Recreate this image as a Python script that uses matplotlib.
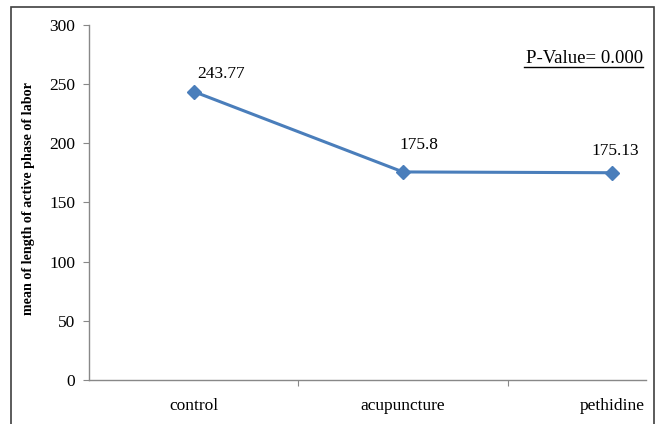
import matplotlib
matplotlib.use('Agg')
import matplotlib.pyplot as plt
from matplotlib.patches import Rectangle
from matplotlib.lines import Line2D

# Data
groups = ['control', 'acupuncture', 'pethidine']
means = [243.77, 175.8, 175.13]
value_labels = ['243.77', '175.8', '175.13']
y_ticks = [0, 50, 100, 150, 200, 250, 300]

plt.rcParams['font.family'] = ['Liberation Serif', 'DejaVu Serif']

fig = plt.figure(figsize=(6.59, 4.24), dpi=100)
ax = fig.add_axes([0.135, 0.104, 0.845, 0.837])

# outer frame around the chart
fig.patches.append(Rectangle((0.0167, -0.02), 0.976, 1.0035, transform=fig.transFigure,
                             fill=False, edgecolor='#404040', linewidth=1.2))

x = list(range(len(groups)))
ax.plot(x, means, color='#4a7ebb', linewidth=2.2, marker='D', markersize=7,
        markerfacecolor='#4a7ebb', markeredgecolor='#4a7ebb')

# value labels
offsets = [(20, 12.5), (11.5, 19.5), (2, 16)]
for xi, yi, lab, off in zip(x, means, value_labels, offsets):
    ax.annotate(lab, (xi, yi), xytext=off, textcoords='offset points',
                ha='center', va='center', fontsize=12.5)

ax.set_xlim(-0.5, 2.16)
ax.set_ylim(0, 300)
ax.set_yticks(y_ticks)
ax.tick_params(axis='y', labelsize=12.5, length=4.5, color='#888888', pad=5.5)

# category boundaries as ticks, labels placed under categories
ax.set_xticks([0.5, 1.5])
ax.set_xticklabels([])
ax.tick_params(axis='x', length=4, color='#888888', direction='out')
for xi, g in zip(x, groups):
    ax.text(xi, -0.073, g, transform=ax.get_xaxis_transform(), ha='center', va='center',
            fontsize=12.5)

for s in ['top', 'right']:
    ax.spines[s].set_visible(False)
for s in ['left', 'bottom']:
    ax.spines[s].set_color('#888888')
    ax.spines[s].set_linewidth(1)

ax.set_ylabel('mean of length of active phase of labor', fontsize=10.2, fontweight='bold')
ax.yaxis.set_label_coords(-0.097, 0.511)

# P-value note, underlined
fig.text(0.9757, 0.861, 'P-Value= 0.000', ha='right', va='center', fontsize=13.5)
fig.lines.append(Line2D([0.795, 0.9757], [0.842, 0.842], transform=fig.transFigure,
                        color='black', linewidth=1))

fig.savefig('out.png', dpi=100)
